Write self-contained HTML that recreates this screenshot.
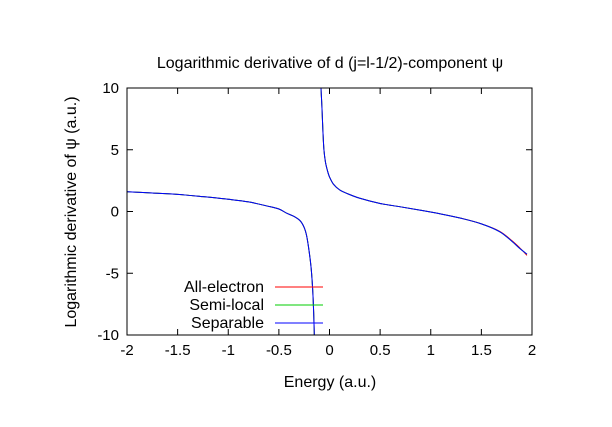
<!DOCTYPE html>
<html><head><meta charset="utf-8"><style>
body{margin:0;background:#fff}
svg{display:block;font-family:"Liberation Sans",sans-serif}
</style></head><body>
<svg width="612" height="427" viewBox="0 0 612 427">
<rect width="612" height="427" fill="#fff"/>
<text x="330" y="68" font-size="16" text-anchor="middle">Logarithmic derivative of d (j=l-1/2)-component ψ</text>
<text x="330" y="387" font-size="16" text-anchor="middle">Energy (a.u.)</text>
<text transform="translate(76,212) rotate(-90)" font-size="16" text-anchor="middle">Logarithmic derivative of ψ (a.u.)</text>
<g id="axes"></g>
<defs><clipPath id="clip"><rect x="127" y="88" width="405" height="247"/></clipPath></defs>
<g id="series" clip-path="url(#clip)"></g>
<rect x="127" y="88" width="405" height="247" fill="none" stroke="#000" stroke-width="1"/>
<g id="legend"></g>
</svg>
<script>
const xTicks=[-2,-1.5,-1,-0.5,0,0.5,1,1.5,2];
const xTickLabels=["-2","-1.5","-1","-0.5","0","0.5","1","1.5","2"];
const yTicks=[-10,-5,0,5,10];
const yTickLabels=["-10","-5","0","5","10"];
const leftE=[-2,-1.75,-1.5,-1.25,-1,-0.8,-0.62,-0.5,-0.42,-0.35,-0.29,-0.25,-0.225,-0.2,-0.18,-0.165,-0.155,-0.15,-0.147];
const leftV=[1.6,1.5,1.39,1.2,0.99,0.78,0.45,0.2,-0.15,-0.4,-0.75,-1.3,-2.0,-3.3,-4.7,-6.5,-8.5,-10,-11];
const rightE=[-0.086,-0.084,-0.075,-0.065,-0.055,-0.04,-0.02,0,0.04,0.1,0.17,0.3,0.5,0.7,0.9,1.1,1.3,1.5,1.68,1.8,1.88,1.95];
const rightV=[11,10,8.5,6.5,5,4,3.3,2.8,2.2,1.75,1.47,1.07,0.65,0.38,0.1,-0.2,-0.55,-1.0,-1.63,-2.4,-3.0,-3.45];
const rightAE=[11,10,8.5,6.5,5,4,3.3,2.8,2.2,1.75,1.47,1.07,0.65,0.38,0.1,-0.2,-0.55,-1.0,-1.6,-2.35,-2.95,-3.55];
const X0=127,X1=532,Y0=335,Y1=88;
const xs=e=>X0+(e+2)/4*(X1-X0);
const ys=v=>Y0-(v+10)/20*(Y0-Y1);
const NS="http://www.w3.org/2000/svg";
const ax=document.getElementById('axes');
function mk(t,a,p){const e=document.createElementNS(NS,t);for(const k in a)e.setAttribute(k,a[k]);p.appendChild(e);return e;}
xTicks.forEach((t,i)=>{
 const x=xs(t);
 const l=mk('path',{d:`M${x},${Y0}v-6M${x},${Y1}v6`,stroke:'#000'},ax);
 
 
 const tx=mk('text',{x:x,y:Y0+20,'font-size':15,'text-anchor':'middle'},ax);
 tx.textContent=xTickLabels[i];
 
 
});
yTicks.forEach((t,i)=>{
 const y=ys(t);
 const l=mk('path',{d:`M${X0},${y}h6M${X1},${y}h-6`,stroke:'#000'},ax);
 
 
 const tx=mk('text',{x:X0-8,y:y+5,'font-size':15,'text-anchor':'end'},ax);
 tx.textContent=yTickLabels[i];
 
 
});
const sg=document.getElementById('series');
function smooth(P){
 let d=`M${P[0][0]},${P[0][1]}`;
 for(let i=0;i<P.length-1;i++){
  const p0=P[Math.max(0,i-1)],p1=P[i],p2=P[i+1],p3=P[Math.min(P.length-1,i+2)];
  const c1=[p1[0]+(p2[0]-p0[0])/6,p1[1]+(p2[1]-p0[1])/6];
  const c2=[p2[0]-(p3[0]-p1[0])/6,p2[1]-(p3[1]-p1[1])/6];
  d+=`C${c1[0]},${c1[1]} ${c2[0]},${c2[1]} ${p2[0]},${p2[1]}`;
 }
 return d;
}
function line(E,V,col,name){
 const P=E.map((e,i)=>[xs(e),ys(V[i])]);
 const p=mk('path',{d:smooth(P),fill:'none',stroke:col,'stroke-width':1},sg);
 
 
}
line(leftE,leftV,'#f00','all-electron-left');
line(rightE,rightAE,'#f00','all-electron-right');
line(leftE,leftV,'#0c0','semi-local-left');
line(rightE,rightV,'#0c0','semi-local-right');
line(leftE,leftV,'#00f','separable-left');
line(rightE,rightV,'#00f','separable-right');
const lg=document.getElementById('legend');
[["All-electron","#f00",287],["Semi-local","#0c0",305],["Separable","#00f",323]].forEach(([n,c,y])=>{
 const t=mk('text',{x:264,y:y+5,'font-size':16,'text-anchor':'end'},lg);
 t.textContent=n;
 
 
 const l=mk('line',{x1:275,x2:323,y1:y,y2:y,stroke:c},lg);
 
 
});
</script>
</body></html>
